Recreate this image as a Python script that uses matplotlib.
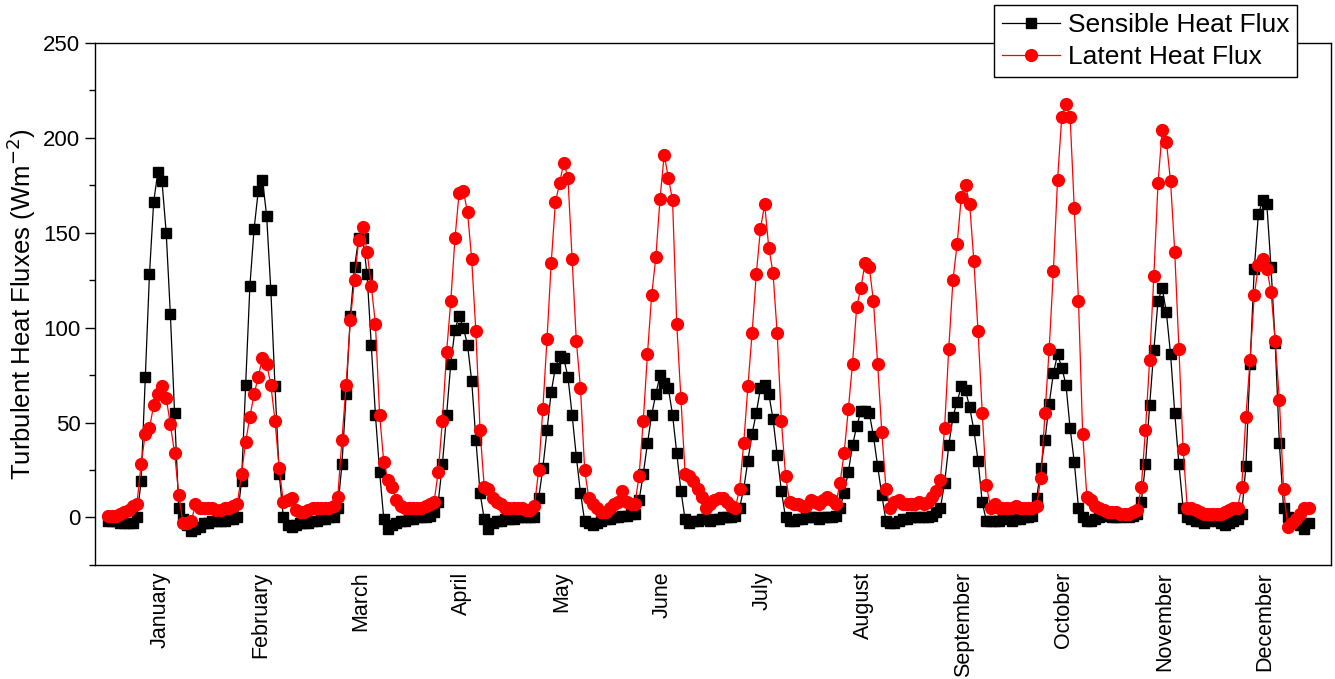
import matplotlib
matplotlib.use("Agg")
import matplotlib.pyplot as plt
import numpy as np

plt.rcParams['font.family'] = ['Liberation Sans', 'DejaVu Sans']

months = ["January", "February", "March", "April", "May", "June", "July",
          "August", "September", "October", "November", "December"]

# mean diurnal cycle (24 hourly values per month), W m-2
sensible = [
    -2, -2, -2, -3, -3, -3, -3, 0, 19, 74, 128, 166, 182, 177, 150, 107, 55, 5, -1, -4, -7, -6, -5, -3,      # Jan
    -3, -2, -2, -2, -2, -1, -1, 0, 19, 70, 122, 152, 172, 178, 159, 120, 69, 23, 0, -4, -5, -4, -3, -3,       # Feb
    -3, -2, -2, -1, -1, 0, 0, 5, 28, 65, 106, 132, 147, 147, 128, 91, 54, 24, -1, -6, -4, -3, -2, -2,          # Mar
    -1, -1, 0, 0, 0, 1, 3, 8, 28, 54, 81, 99, 106, 100, 91, 72, 41, 13, -1, -6, -3, -2, -2, -1,                # Apr
    -1, -1, 0, 0, 0, 0, 0, 10, 26, 46, 66, 79, 85, 84, 74, 54, 32, 13, -2, -3, -4, -3, -2, -1,                 # May
    -1, 0, 0, 1, 1, 2, 2, 9, 23, 39, 54, 65, 75, 71, 68, 54, 34, 14, -1, -3, -2, -2, -1, -1,                   # Jun
    -2, -1, -1, 0, 0, 0, 1, 5, 15, 30, 44, 55, 68, 70, 65, 52, 33, 14, 0, -2, -2, -1, -1, 0,                   # Jul
    0, 0, -1, 0, 0, 0, 1, 5, 13, 24, 38, 48, 56, 56, 55, 43, 27, 12, -2, -3, -3, -2, -1, -1,                   # Aug
    0, 0, 0, 0, 0, 1, 3, 5, 18, 38, 53, 61, 69, 67, 58, 46, 30, 8, -2, -2, -2, -2, -1, 0,                      # Sep
    -2, -1, -1, 0, 0, 1, 10, 26, 41, 60, 76, 86, 79, 70, 47, 29, 5, 0, -2, -2, -1, 0, 1, 1,                    # Oct
    0, 0, 0, 1, 0, 1, 2, 8, 28, 59, 88, 114, 121, 108, 86, 55, 28, 5, 0, -1, -2, -2, -3, -2,                   # Nov
    -1, -2, -3, -4, -3, -2, -1, 2, 27, 81, 131, 160, 167, 165, 132, 92, 39, 5, 0, -2, -3, -4, -6, -3,          # Dec
]

latent = [
    1, 1, 1, 2, 3, 4, 6, 7, 28, 44, 47, 59, 65, 69, 63, 49, 34, 12, -3, -3, -2, 7, 5, 5,                       # Jan
    5, 5, 4, 4, 5, 5, 6, 7, 23, 40, 53, 65, 74, 84, 81, 70, 51, 26, 8, 9, 10, 4, 3, 3,                         # Feb
    4, 5, 5, 5, 5, 5, 6, 11, 41, 70, 104, 125, 146, 153, 140, 122, 102, 54, 29, 20, 16, 9, 6, 5,               # Mar
    5, 5, 5, 5, 6, 7, 8, 24, 51, 87, 114, 147, 171, 172, 161, 136, 98, 46, 16, 15, 10, 8, 7, 5,                # Apr
    5, 5, 5, 5, 4, 4, 6, 25, 57, 94, 134, 166, 176, 187, 179, 136, 93, 68, 25, 10, 7, 5, 3, 3,                 # May
    5, 7, 8, 14, 8, 7, 7, 22, 51, 86, 117, 137, 168, 191, 179, 167, 102, 63, 23, 22, 19, 15, 11, 5,            # Jun
    7, 9, 10, 10, 8, 6, 5, 15, 39, 69, 97, 128, 152, 165, 142, 129, 97, 51, 22, 8, 7, 7, 6, 6,                 # Jul
    9, 8, 7, 9, 11, 9, 7, 18, 34, 57, 81, 111, 121, 134, 132, 114, 81, 45, 15, 5, 8, 9, 7, 7,                  # Aug
    7, 7, 8, 7, 8, 11, 14, 20, 47, 89, 125, 144, 169, 175, 165, 135, 98, 55, 17, 5, 7, 5, 5, 5,                # Sep
    5, 6, 5, 5, 5, 5, 6, 21, 55, 89, 130, 178, 211, 218, 211, 163, 114, 44, 11, 9, 6, 5, 4, 3,                 # Oct
    3, 3, 2, 2, 2, 3, 4, 16, 46, 83, 127, 176, 204, 198, 177, 140, 89, 36, 5, 5, 4, 3, 2, 2,                   # Nov
    2, 2, 2, 3, 4, 5, 5, 16, 53, 83, 117, 133, 136, 131, 119, 93, 62, 15, -5, -3, -1, 2, 5, 5,                 # Dec
]

x = np.arange(len(sensible))

fig = plt.figure(figsize=(13.35, 6.79), dpi=100)
ax = fig.add_axes([0.0712, 0.168, 0.926, 0.7688])

ax.plot(x, sensible, color="black", lw=0.9, marker="s", ms=7,
        label="Sensible Heat Flux")
ax.plot(x, latent, color="red", lw=0.9, marker="o", ms=8.5,
        label="Latent Heat Flux")

ax.set_xlim(-3, 292.4)
ax.set_ylim(-25, 250)
ax.set_yticks(np.arange(0, 251, 50))
ax.set_yticks(np.arange(-25, 251, 25), minor=True)
ax.tick_params(axis="y", which="major", length=7, width=1, labelsize=16)
ax.tick_params(axis="y", which="minor", length=4, width=1)

ax.set_xticks(np.arange(12) * 24 + 12.5)
ax.set_xticklabels(months, rotation=90, fontsize=15.5)
ax.tick_params(axis="x", length=0, pad=5)

ax.set_ylabel("Turbulent Heat Fluxes (Wm$^{-2}$)", fontsize=18.5, labelpad=4)

for s in ax.spines.values():
    s.set_linewidth(1)

leg = ax.legend(loc="upper right", bbox_to_anchor=(0.9715, 0.9926),
                bbox_transform=fig.transFigure, fontsize=19, frameon=True,
                fancybox=False, framealpha=1, edgecolor="black",
                borderpad=0.3, labelspacing=0.3, handlelength=2.2,
                handletextpad=0.3, borderaxespad=0)
leg.get_frame().set_linewidth(1)

fig.savefig("out.png", dpi=100)
